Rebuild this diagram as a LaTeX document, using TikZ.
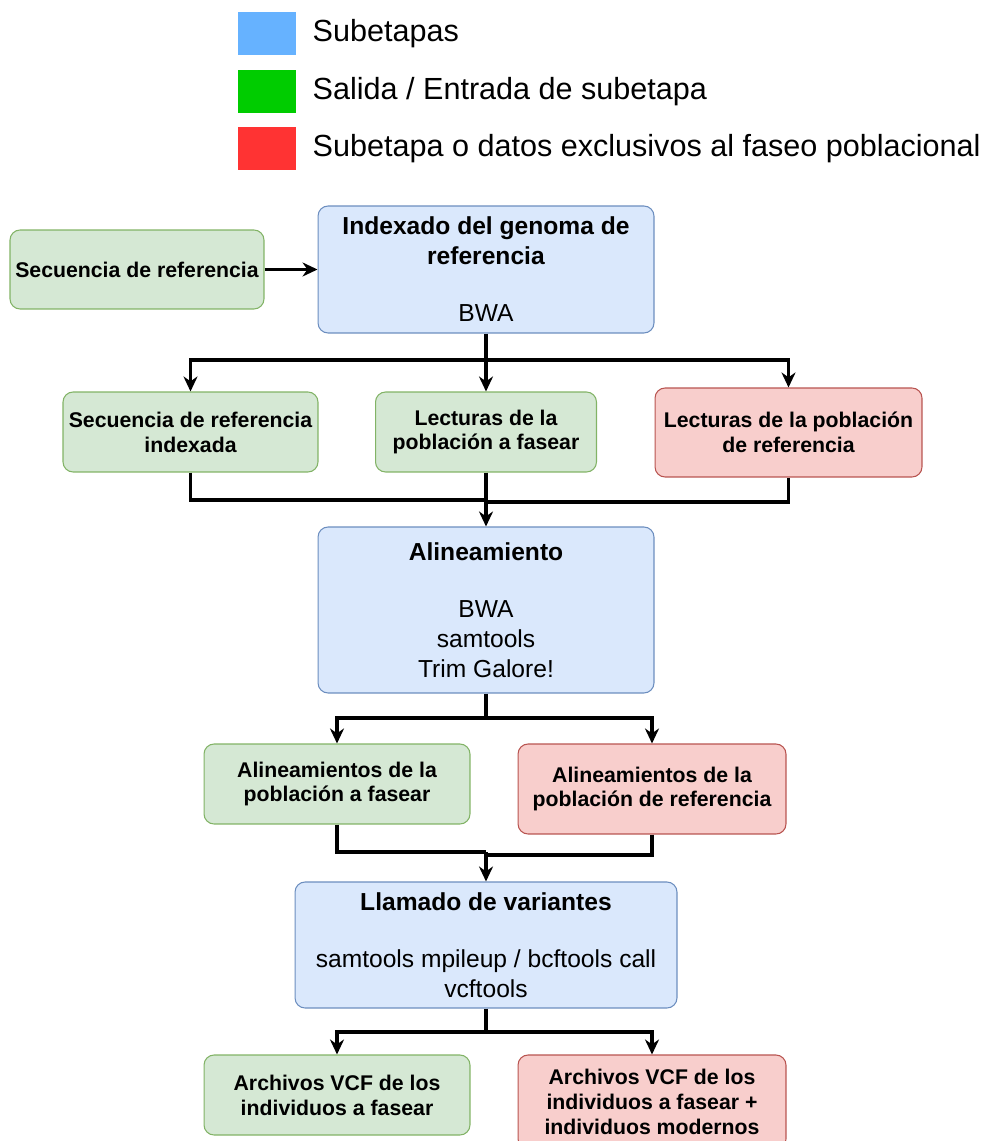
\documentclass[tikz,border=0pt]{standalone}
\usepackage{fontspec}
\setmainfont{Liberation Sans}
\usetikzlibrary{arrows.meta,positioning,calc}
\definecolor{legblue}{HTML}{66B2FF}
\definecolor{leggreen}{HTML}{00CC00}
\definecolor{legred}{HTML}{FF3333}
\definecolor{stagefill}{HTML}{DAE8FC}
\definecolor{stagedraw}{HTML}{6C8EBF}
\definecolor{datafill}{HTML}{D5E8D4}
\definecolor{datadraw}{HTML}{82B366}
\definecolor{exclfill}{HTML}{F8CECC}
\definecolor{excldraw}{HTML}{B85450}
\newcommand{\lgfont}{\fontsize{17.4}{20}\selectfont}
\newcommand{\ttfnt}{\fontsize{14}{17}\selectfont}
\newcommand{\smfnt}{\fontsize{12.1}{14.2}\selectfont}
\newcommand{\gap}{15.5pt}
\tikzset{
  box/.style={draw,rounded corners=0.2cm,inner sep=0pt,align=center,line width=0.6pt},
  stage/.style={box,fill=stagefill,draw=stagedraw,font=\ttfnt},
  data/.style={box,fill=datafill,draw=datadraw,font=\smfnt\bfseries},
  excl/.style={box,fill=exclfill,draw=excldraw,font=\smfnt\bfseries},
  wire/.style={line width=1.8pt},
  legsq/.style={minimum width=1.16cm,minimum height=0.86cm,inner sep=0pt},
  legtext/.style={inner sep=0pt,anchor=west,font=\lgfont}
}

\begin{document}
\begin{tikzpicture}[x=0.02cm,y=-0.02cm,>={Stealth[length=0.3cm,width=0.28cm]}]
  \clip (0,0) rectangle (985,1141);

  % legend
  \node[legsq,fill=legblue] (lblue) at (267,33.5) {};
  \node[legsq,fill=leggreen] (lgreen) at (267,91.5) {};
  \node[legsq,fill=legred] (lred) at (267,148.5) {};
  \node[legtext,right=0.32cm of lblue] (tblue) {Subetapas};
  \node[legtext,right=0.32cm of lgreen] (tgreen) {Salida / Entrada de subetapa};
  \node[legtext,right=0.32cm of lred] (tred) {Subetapa o datos exclusivos al faseo poblacional};

  % indexado
  \node[stage,minimum width=6.72cm,minimum height=2.54cm] (idx) at (486,269.5)
    {\textbf{Indexado del genoma de}\\\textbf{referencia}\\[\gap]BWA};
  \node[data,minimum width=5.08cm,minimum height=1.58cm] (seq) at (137,269.5)
    {Secuencia de referencia};

  \node[data,minimum width=5.1cm,minimum height=1.6cm] (seqidx) at (190.5,432)
    {Secuencia de referencia\\indexada};
  \node[data,minimum width=4.42cm,minimum height=1.6cm] (lec) at (486,432)
    {Lecturas de la\\población a fasear};
  \node[excl,minimum width=5.34cm,minimum height=1.78cm] (lecref) at (788.5,432.5)
    {Lecturas de la población\\de referencia};

  % alineamiento
  \node[stage,minimum width=6.72cm,minimum height=3.32cm] (alin) at (486,610)
    {\textbf{Alineamiento}\\[\gap]BWA\\samtools\\Trim Galore!};
  \node[data,minimum width=5.32cm,minimum height=1.6cm] (alfas) at (337,784)
    {Alineamientos de la\\población a fasear};
  \node[excl,minimum width=5.36cm,minimum height=1.8cm] (alref) at (652,789)
    {Alineamientos de la\\población de referencia};

  % llamado de variantes
  \node[stage,minimum width=7.64cm,minimum height=2.52cm] (llam) at (486,945)
    {\textbf{Llamado de variantes}\\[\gap]samtools mpileup / bcftools call\\vcftools};
  \node[data,minimum width=5.32cm,minimum height=1.6cm] (vcffas) at (337,1095)
    {Archivos VCF de los\\individuos a fasear};
  \node[excl,minimum width=5.36cm,minimum height=1.88cm] (vcfref) at (652,1102)
    {Archivos VCF de los\\individuos a fasear +\\individuos modernos};

  \coordinate (b1) at (486,360);
  \coordinate (m1) at (486,500);
  \coordinate (m1r) at (486,502);
  \coordinate (b2) at (486,718);
  \coordinate (m2) at (486,852);
  \coordinate (m2r) at (486,855);
  \coordinate (b3) at (486,1032);

  \draw[wire,->] (seq) -- (idx);
  \draw[wire] (idx.south) -- (b1);
  \draw[wire,->] (b1) -| (seqidx.north);
  \draw[wire,->] (b1) -- (lec.north);
  \draw[wire,->] (b1) -| (lecref.north);

  \draw[wire] (seqidx.south) |- (m1);
  \draw[wire] (lecref.south) |- (m1r);
  \draw[wire] (lec.south) -- (m1);
  \draw[wire,->] (m1) -- (alin.north);

  \draw[wire] (alin.south) -- (b2);
  \draw[wire,->] (b2) -| (alfas.north);
  \draw[wire,->] (b2) -| (alref.north);

  \draw[wire] (alfas.south) |- (m2);
  \draw[wire] (alref.south) |- (m2r);
  \draw[wire,->] (m2) -- (llam.north);

  \draw[wire] (llam.south) -- (b3);
  \draw[wire,->] (b3) -| (vcffas.north);
  \draw[wire,->] (b3) -| (vcfref.north);
\end{tikzpicture}
\end{document}
